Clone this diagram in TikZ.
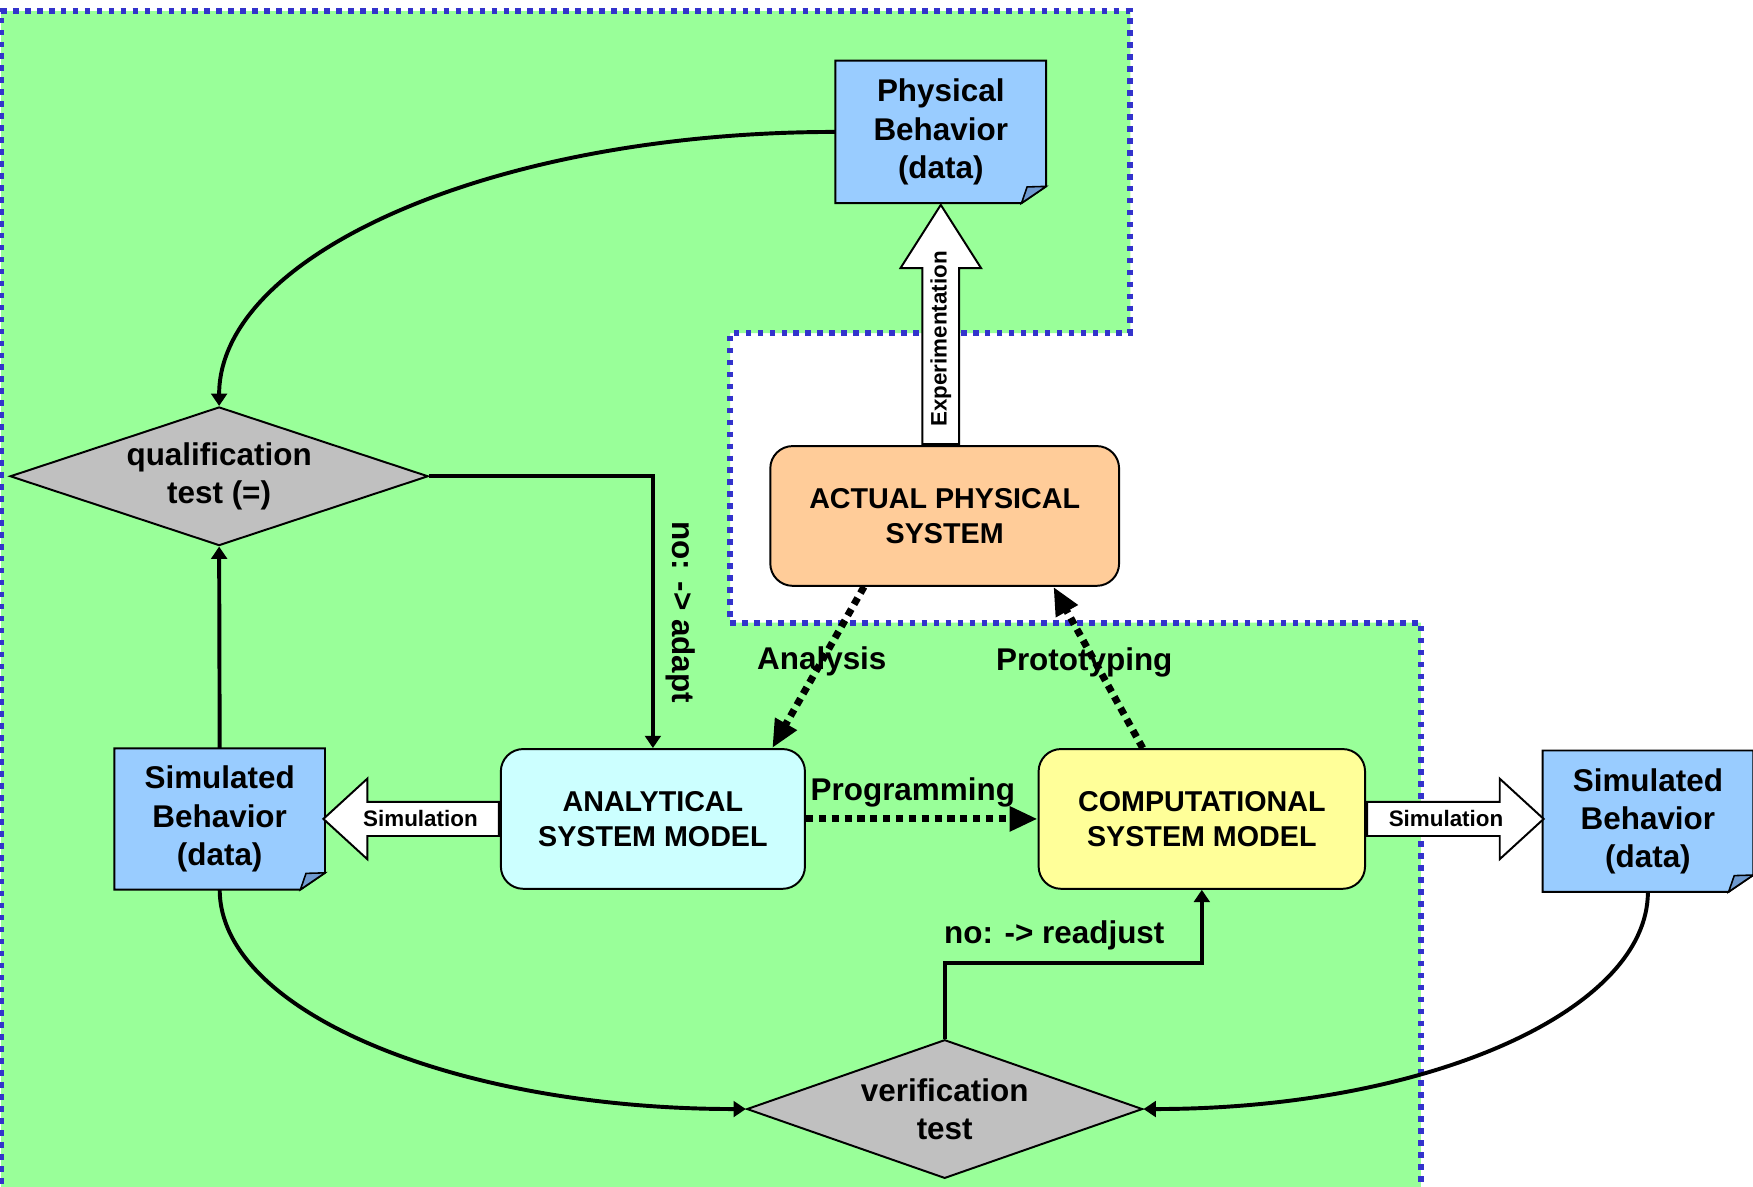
\documentclass[tikz,border=0pt]{standalone}
\usepackage{fontspec}
\setmainfont{Liberation Sans}
\usepackage{tikz}
\usetikzlibrary{shapes.geometric,shapes.arrows}
\usetikzlibrary{arrows.meta,calc,backgrounds}
\usepackage{xcolor}
\definecolor{areagreen}{HTML}{99FF99}
\definecolor{areablue}{HTML}{3333CC}
\definecolor{docblue}{HTML}{99CCFF}
\definecolor{foldblue}{HTML}{6E9AD0}
\definecolor{physorange}{HTML}{FFCC99}
\definecolor{modelcyan}{HTML}{CCFFFF}
\definecolor{modelyellow}{HTML}{FFFF99}
\definecolor{testgray}{HTML}{C0C0C0}
\tikzstyle{flow}=[
  x=0.1mm,y=-0.1mm,font=\bfseries\fontsize{8}{9.7}\selectfont
]
\tikzstyle{docbox}=[
  rectangle,align=center,inner sep=0pt,
  minimum width=18.7mm,minimum height=12.5mm
]
\tikzstyle{docshape}=[
  draw,fill=docblue,line width=0.5pt
]
\tikzstyle{docfold}=[
  draw,fill=foldblue,line width=0.4pt
]
\tikzstyle{modelbox}=[
  draw,rectangle,rounded corners=2mm,line width=0.5pt,align=center,
  minimum height=12.5mm,font=\bfseries\fontsize{7.3}{9}\selectfont
]
\tikzstyle{testnode}=[
  draw,diamond,aspect=3,fill=testgray,inner sep=0pt,line width=0.5pt,align=center
]
\tikzstyle{simarrow}=[
  draw,single arrow,fill=white,line width=0.5pt,single arrow head extend=1.8mm,
  minimum width=7.2mm,inner sep=0.5mm,anchor=tail,font=\bfseries\fontsize{5.7}{6}\selectfont
]
\tikzstyle{conn}=[
  line width=1pt,-{Triangle[length=1.1mm,width=1.4mm]}
]
\tikzstyle{devarrow}=[
  line width=1.8pt,dash pattern=on 0.65mm off 0.5mm,-{Triangle[length=2.5mm,width=2.1mm]}
]
\tikzstyle{areaborder}=[
  draw=areablue,line width=0.5mm,dash pattern=on 0.5mm off 0.57mm
]

\begin{document}
\begin{tikzpicture}[flow]
    \useasboundingbox (0,0) rectangle (1568,1061);
    \begin{scope}[on background layer]
      \fill [areagreen] (1,10) -- (1011,10) -- (1011,298) -- (653,298) -- (653,557) -- (1271,557) -- (1271,1080) -- (1,1080) -- cycle;
      \draw [areaborder] (1,1080) -- (1,10) -- (1011,10) -- (1011,298) -- (653,298) -- (653,557) -- (1271,557) -- (1271,1080);
    \end{scope}
      \node (phys) at (841.5,118) [docbox,minimum height=12.6mm] {Physical\\Behavior\\(data)};
      \node (actual) at (845,461.5) [modelbox,fill=physorange,minimum width=31.2mm] {ACTUAL PHYSICAL\\SYSTEM};
      \node (anal) at (584,732.5) [modelbox,fill=modelcyan,minimum width=27.2mm] {ANALYTICAL\\SYSTEM MODEL};
      \node (comp) at (1075,732.5) [modelbox,fill=modelyellow,minimum width=29.2mm] {COMPUTATIONAL\\SYSTEM MODEL};
      \node (simL) at ($(anal) + (-387.5,0)$) [docbox] {Simulated\\Behavior\\(data)};
      \node (simR) at ($(comp) + (399,2)$) [docbox] {Simulated\\Behavior\\(data)};
      \node (qual) at (196,426) [testnode,minimum width=37.4mm,minimum height=12.4mm] {qualification\\test (=)};
      \node (verif) at (845,992) [testnode,minimum width=35.4mm,minimum height=12.4mm] {verification\\test};
    % data sheets with page curl
    \begin{scope}[on background layer]
      \foreach \d in {phys,simL,simR} {
        \draw [docshape] (\d.north west) -- (\d.north east) -- ($(\d.south east) + (0,1.5mm)$)
          -- ($(\d.south east) + (-2.2mm,0)$) -- (\d.south west) -- cycle;
        \draw [docfold] ($(\d.south east) + (-2.2mm,0)$) -- ($(\d.south east) + (0,1.5mm)$)
          -- ($(\d.south east) + (-1.7mm,1.45mm)$) -- cycle;
      }
    \end{scope}
      % block arrows
      \node (expArrow) at (phys.south |- actual.north) [simarrow,rotate=90,minimum height=21.4mm,single arrow tip angle=65] {Experimentation};
      \node (simArrowL) at (anal.west) [simarrow,shape border rotate=180,minimum height=15.7mm,single arrow tip angle=85] {Simulation};
      \node (simArrowR) at (comp.east) [simarrow,minimum height=15.8mm,single arrow tip angle=85] {Simulation};
      % development steps
      \draw [devarrow] ($(actual.south west)!0.27!(actual.south east)$) -- ($(anal.north west)!0.89!(anal.north east)$)
        node [pos=0.46] {Analysis};
      \draw [devarrow] ($(comp.north west)!0.32!(comp.north east)$) -- ($(actual.south west)!0.81!(actual.south east)$)
        node [pos=0.53,xshift=-1mm] {Prototyping};
      \draw [devarrow] (anal.east) -- (comp.west) node [midway,above,xshift=-0.8mm,inner sep=0.7mm] {Programming};
      % tests
      \draw [conn] (phys.west) .. controls +(-305,0) and +(0,-136) .. (qual.north);
      \draw [conn] (simL.north) -- (qual.south);
      \draw [conn] (qual.east) -| (anal.north) node [pos=0.75,rotate=-90,anchor=south,inner sep=1mm] {no: -> adapt};
      \draw [conn] (simL.south) .. controls +(0,109) and +(-260,0) .. (verif.west);
      \draw [conn] (simR.south) .. controls +(0,107) and +(252,0) .. (verif.east);
      \draw [conn] (verif.north) -- ++(0,-68) -| (comp.south) node [pos=0.25,above,xshift=-1.7mm,inner sep=1mm] {no: -> readjust};
    \end{tikzpicture}
\end{document}
